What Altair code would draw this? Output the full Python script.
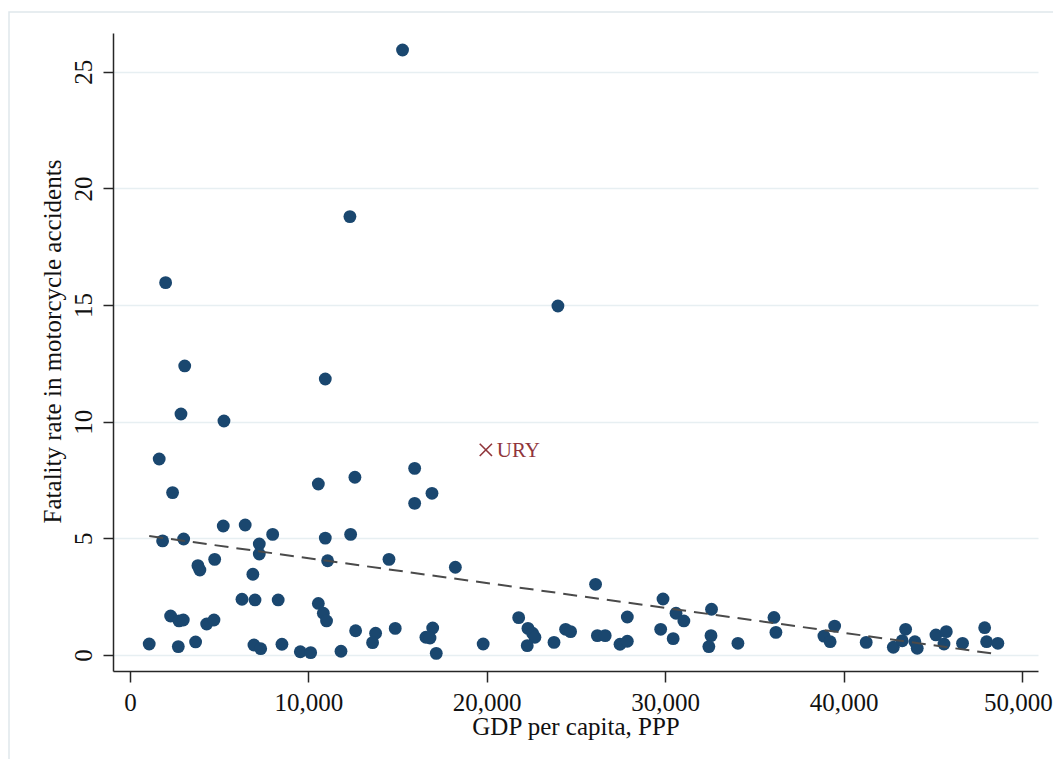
import altair as alt
import pandas as pd

# ---- data ----
gdp = [15280, 12330, 2000, 23990, 3070, 10950, 2860, 5270, 1640, 2390,
       10560, 5230, 6460, 8000, 1830, 3010, 10950, 7250, 7250, 11080,
       3810, 3920, 4750, 6890, 6280, 7010, 8310, 10560, 10840, 11020,
       2280, 2750, 2990, 4300, 4710, 1080, 2710, 3680, 6950, 7330,
       8520, 9550, 10130, 11830, 12610, 15960, 16930, 15960, 12370, 14520,
       18240, 21790, 12650, 13770, 13600, 14870, 16970, 16590, 16820, 17170,
       19800, 22310, 22570, 22700, 22270, 23770, 24420, 24700, 26100, 26200,
       26640, 27880, 27470, 27880, 29880, 29750, 30610, 31050, 30450, 32600,
       32570, 32450, 34080, 36100, 36210, 39500, 38900, 39250, 41270, 42790,
       43480, 43290, 44000, 44130, 45180, 45760, 45630, 46670, 47910, 48020,
       48650]
fatality = [25.93, 18.79, 15.96, 14.96, 12.39, 11.83, 10.33, 10.03, 8.40, 6.96,
            7.33, 5.53, 5.57, 5.17, 4.89, 4.97, 5.01, 4.76, 4.33, 4.04,
            3.83, 3.64, 4.10, 3.46, 2.39, 2.36, 2.36, 2.21, 1.79, 1.46,
            1.67, 1.46, 1.50, 1.33, 1.50, 0.47, 0.36, 0.56, 0.43, 0.27,
            0.46, 0.14, 0.10, 0.16, 7.62, 8.00, 6.93, 6.50, 5.17, 4.10,
            3.76, 1.60, 1.04, 0.93, 0.53, 1.14, 1.16, 0.76, 0.73, 0.07,
            0.47, 1.14, 0.93, 0.76, 0.40, 0.54, 1.10, 1.00, 3.03, 0.83,
            0.83, 1.63, 0.46, 0.59, 2.40, 1.10, 1.79, 1.46, 0.70, 1.96,
            0.83, 0.36, 0.50, 1.61, 0.97, 1.24, 0.81, 0.57, 0.54, 0.33,
            1.10, 0.61, 0.57, 0.29, 0.86, 1.00, 0.47, 0.50, 1.17, 0.57,
            0.50]

ury_gdp = [19950]
ury_rate = [8.79]
ury_label = ["URY"]

trend_gdp = [1080, 48650]
trend_rate = [5.10, 0.03]

x_ticks = [0, 10000, 20000, 30000, 40000, 50000]
y_ticks = [0, 5, 10, 15, 20, 25]

FONT = "Liberation Serif"
NAVY = "#1a476f"
MAROON = "#90353b"
AXIS = "#262626"

pts = pd.DataFrame({"gdp": gdp, "rate": fatality})
ury = pd.DataFrame({"gdp": ury_gdp, "rate": ury_rate, "label": ury_label})
trend = pd.DataFrame({"gdp": trend_gdp, "rate": trend_rate})

xs = alt.Scale(domain=[-950, 50900], nice=False, zero=False)
ys = alt.Scale(domain=[-0.686, 26.66], nice=False, zero=False)

x_axis = alt.Axis(
    values=x_ticks, format=",d", title="GDP per capita, PPP", grid=False,
    tickSize=11, tickWidth=1.5, tickColor=AXIS, domainColor=AXIS, domainWidth=1.5,
    labelPadding=8, labelFont=FONT, labelFontSize=25, labelColor="#111111",
    labelFlush=False, labelOverlap=False,
    labelOffset={"condition": {"test": "datum.value == 50000", "value": -4}, "value": 0},
    titleFont=FONT, titleFontSize=25, titleFontWeight="normal", titleColor="#111111",
    titleBaseline="alphabetic", titleY=63, titleX=462.5, titleAlign="center",
)
y_axis = alt.Axis(
    values=y_ticks, title="Fatality rate in motorcycle accidents", grid=True,
    gridColor="#e7eff2", gridWidth=1.5,
    tickSize=10, tickWidth=1.5, tickColor=AXIS, domainColor=AXIS, domainWidth=1.5,
    labelAngle=270, labelAlign="center", labelBaseline="alphabetic", labelPadding=12,
    labelFont=FONT, labelFontSize=25, labelColor="#111111",
    labelFlush=False, labelOverlap=False,
    titleFont=FONT, titleFontSize=25, titleFontWeight="normal", titleColor="#111111",
    titleAngle=270, titleAlign="center", titleBaseline="alphabetic",
    titleX=-53, titleY=308,
)

base = alt.Chart(pts)

frame = alt.Chart(pd.DataFrame({"k": [0]})).mark_rect(
    fillOpacity=0, stroke="#dfe7eb", strokeWidth=1.5, clip=False
).encode(
    x=alt.value(-104), y=alt.value(-21), x2=alt.value(1600), y2=alt.value(1600)
)

points = base.mark_circle(size=165, color=NAVY, opacity=1).encode(
    x=alt.X("gdp:Q", scale=xs, axis=x_axis),
    y=alt.Y("rate:Q", scale=ys, axis=y_axis),
)

line = alt.Chart(trend).mark_line(
    color="#4a4a4a", strokeWidth=2, strokeDash=[14, 8]
).encode(x=alt.X("gdp:Q", scale=xs), y=alt.Y("rate:Q", scale=ys))

ury_pt = alt.Chart(ury).mark_point(
    shape="M-1,-1L1,1M-1,1L1,-1", size=150, filled=False,
    color=MAROON, strokeWidth=1.6, opacity=1
).encode(x=alt.X("gdp:Q", scale=xs), y=alt.Y("rate:Q", scale=ys))

ury_txt = alt.Chart(ury).mark_text(
    align="left", baseline="alphabetic", dx=11, dy=7,
    font=FONT, fontSize=21, color=MAROON
).encode(x=alt.X("gdp:Q", scale=xs), y=alt.Y("rate:Q", scale=ys), text="label:N")

chart = alt.layer(frame, points, line, ury_pt, ury_txt).properties(
    width=925, height=638,
    autosize=alt.AutoSizeParams(type="none"),
    padding={"left": 105, "top": 25, "right": 15, "bottom": 88},
    background="white",
).configure_view(strokeWidth=0)

chart.save("out.html", embed_options={"renderer": "svg", "actions": False})
